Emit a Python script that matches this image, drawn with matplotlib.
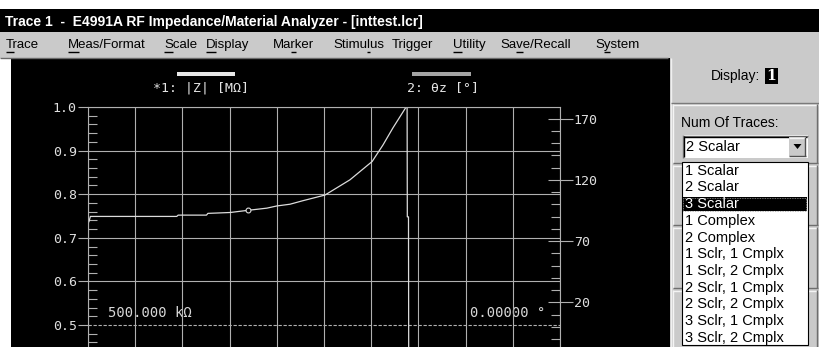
import numpy as np
import matplotlib
matplotlib.use("Agg")
from matplotlib import pyplot as plt
from matplotlib.patches import Rectangle, Polygon
from matplotlib.ticker import MultipleLocator
from matplotlib.font_manager import FontProperties

# |Z| trace, x in grid divisions (sweep axis not labelled on screen)
z_div = [0.02, 0.05, 1.88, 1.91, 2.51, 2.54, 3.01, 3.39, 3.79, 4.00, 4.28,
         4.55, 5.02, 5.55, 6.02, 6.25, 6.46, 6.74, 6.76, 6.765, 6.79, 6.795]
z_mohm = [0.737, 0.749, 0.749, 0.752, 0.752, 0.756, 0.758, 0.763, 0.768, 0.773, 0.777,
          0.785, 0.798, 0.833, 0.875, 0.913, 0.952, 1.0, 1.05, 0.748, 0.748, 0.40]
marker_div = [3.39]
marker_mohm = [0.763]

left_ticks = [0.5, 0.6, 0.7, 0.8, 0.9, 1.0]
left_labels = ["0.5", "0.6", "0.7", "0.8", "0.9", "1.0"]
right_ticks = [20, 70, 120, 170]
right_labels = ["20", "70", "120", "170"]

menu_items = ["Trace", "Meas/Format", "Scale", "Display", "Marker", "Stimulus",
              "Trigger", "Utility", "Save/Recall", "System"]
menu_x = [6, 68, 164, 206, 273, 333, 392, 453, 500, 595]
menu_ul = [0, 0, 0, 0, 2, 5, -1, 0, 2, 1]

trace_opts = ["1 Scalar", "2 Scalar", "3 Scalar", "1 Complex", "2 Complex",
              "1 Sclr, 1 Cmplx", "1 Sclr, 2 Cmplx", "2 Sclr, 1 Cmplx",
              "2 Sclr, 2 Cmplx", "3 Sclr, 1 Cmplx", "3 Sclr, 2 Cmplx"]
selected = 2

W, H = 820, 347
fig = plt.figure(figsize=(W / 100, H / 100), dpi=100)
fig.patch.set_facecolor("white")

# full-figure overlay in pixel coords for the window chrome
ui = fig.add_axes([0, 0, 1, 1], zorder=0)
ui.set_xlim(0, W)
ui.set_ylim(H, 0)
ui.axis("off")

def rect(x0, y0, x1, y1, fc, ec="none", lw=0, z=1):
    ui.add_patch(Rectangle((x0, y0), x1 - x0, y1 - y0, facecolor=fc,
                           edgecolor=ec, linewidth=lw, zorder=z))

def hl(y, x0, x1, c, z=2, lw=1):
    ui.plot([x0, x1], [y, y], color=c, lw=lw, zorder=z, solid_capstyle="butt")

def vl(x, y0, y1, c, z=2, lw=1):
    ui.plot([x, x], [y0, y1], color=c, lw=lw, zorder=z, solid_capstyle="butt")

panel = "#cacaca"
sans = "Liberation Sans"

# title bar + menu bar
rect(0, 9, W, 32, "black")
ui.text(5, 21.5, "Trace 1  -  E4991A RF Impedance/Material Analyzer - [inttest.lcr]",
        color="white", fontsize=10, fontweight="bold", family=sans,
        va="center", ha="left", zorder=3)
rect(0, 32, W, 58, panel)
hl(57.5, 0, 668, "#6a6a6a")

renderer = fig.canvas.get_renderer()
mprop = FontProperties(family=sans, size=9.5)
for name, x, ul in zip(menu_items, menu_x, menu_ul):
    ui.text(x, 45, name, fontproperties=mprop, color="black", va="center", ha="left", zorder=3)
    if ul >= 0:
        w0 = renderer.get_text_width_height_descent(name[:ul], mprop, ismath=False)[0] if ul else 0
        w1 = renderer.get_text_width_height_descent(name[:ul + 1], mprop, ismath=False)[0]
        hl(51.5, x + w0, x + w1, "black", z=3)

# black measurement screen
rect(11, 58, 670, H, "black")

# right side panel
rect(670, 58, W, H, panel)
vl(671, 58, H, "#f0f0f0")
hl(103, 671, W, "#7a7a7a")
for y0, y1 in [(104, 163), (165, 225), (227, 288), (290, H + 5)]:
    rect(673, y0, 818, y1, panel, z=1)
    hl(y0 + 0.5, 673, 818, "#f4f4f4")
    vl(673.5, y0, y1, "#f4f4f4")
    hl(y1 - 0.5, 673, 818, "#6e6e6e")
    vl(817.5, y0, y1, "#6e6e6e")

ui.text(711, 76, "Display:", family=sans, fontsize=10, va="center", ha="left", zorder=3)
rect(765, 68, 778, 84, "black", z=3)
ui.text(771.5, 76, "1", family="DejaVu Serif", fontsize=10, fontweight="bold",
        color="white", va="center", ha="center", zorder=4)
ui.text(681, 123, "Num Of Traces:", family=sans, fontsize=10, va="center", ha="left", zorder=3)

# combo box
rect(683, 135, 808, 158, "white", z=3)
hl(135.5, 683, 808, "#7a7a7a", z=4)
vl(683.5, 135, 158, "#7a7a7a", z=4)
hl(136.5, 684, 807, "black", z=4)
vl(684.5, 136, 157, "black", z=4)
rect(789, 137, 806, 156, panel, z=4)
hl(137.5, 789, 806, "#f4f4f4", z=5)
hl(155.5, 789, 806, "#505050", z=5)
vl(805.5, 137, 156, "#505050", z=5)
ui.add_patch(Polygon([[793.5, 144], [801.5, 144], [797.5, 149]], closed=True,
                     facecolor="black", zorder=6))
ui.text(686, 147, trace_opts[1], family=sans, fontsize=10.5, va="center", ha="left", zorder=5)

# open drop-down list
rect(682, 161.5, 808, 344.5, "white", ec="black", lw=0.8, z=6)
for i, opt in enumerate(trace_opts):
    y = 170.7 + i * 16.7
    col = "black"
    if i == selected:
        rect(683, y - 7, 807, y + 7, "black", z=7)
        ui.add_patch(Rectangle((683.5, y - 6.5), 123, 13, facecolor="none",
                               edgecolor="#9a9a9a", lw=0.6, ls=(0, (1, 1)), zorder=8))
        col = "white"
    ui.text(685, y, opt, family=sans, fontsize=10.5, color=col, va="center", ha="left", zorder=9)

# trace legend bars and labels
rect(177, 71.5, 235, 76, "#e8e8e8", z=3)
rect(412, 71.5, 471, 76, "#a4a4a4", z=3)
mono = "DejaVu Sans Mono"
ui.text(153, 88, "*1: |Z| [M\u03a9]", family=mono, fontsize=9.5, color="#e4e4e4",
        va="center", ha="left", zorder=3)
ui.text(407, 88, "2: \u03b8z [\u00b0]", family=mono, fontsize=9.5, color="#e4e4e4",
        va="center", ha="left", zorder=3)
ui.text(108, 313, "500.000 k\u03a9", family=mono, fontsize=10, color="#d8d8d8",
        va="center", ha="left", zorder=3)
ui.text(470, 313, "0.00000 \u00b0", family=mono, fontsize=10, color="#d8d8d8",
        va="center", ha="left", zorder=3)

# graticule
grid_c = "#b0b0b0"
ax = fig.add_axes([88 / W, 0, 472 / W, (H - 107) / H], zorder=2)
ax.patch.set_alpha(0)
ax.set_xlim(0, 10)
ax.set_ylim(0.4495, 1.0)
ax.set_xticks(range(11))
ax.tick_params(axis="x", length=0, labelbottom=False)
ax.grid(axis="x", color=grid_c, lw=0.8)
for t in left_ticks:
    if t == 0.5:
        ax.axhline(t, color=grid_c, lw=0.8, ls=(0, (3, 1.5)))
    else:
        ax.axhline(t, color=grid_c, lw=0.8)
for s in ["left", "top", "right"]:
    ax.spines[s].set_color(grid_c)
    ax.spines[s].set_linewidth(0.8)
ax.spines["bottom"].set_visible(False)
ax.set_yticks(left_ticks)
ax.set_yticklabels(left_labels, family=mono, fontsize=9.5, color="#e0e0e0")
ax.yaxis.set_minor_locator(MultipleLocator(0.02))
ax.tick_params(axis="y", which="major", direction="out", length=7, width=0.8,
               color=grid_c, pad=1)
ax.tick_params(axis="y", which="minor", direction="in", length=6.5, width=0.8, color=grid_c)

ax2 = ax.twinx()
ax2.set_ylim(-16.3, 179.4)
ax2.set_yticks(right_ticks)
ax2.set_yticklabels(right_labels, family=mono, fontsize=9.5, color="#e0e0e0")
ax2.yaxis.set_minor_locator(MultipleLocator(10))
ax2.tick_params(axis="y", which="major", direction="inout", length=18, width=0.8,
                color=grid_c, pad=1)
ax2.tick_params(axis="y", which="minor", direction="in", length=6.5, width=0.8, color=grid_c)
for s in ax2.spines.values():
    s.set_visible(False)

ax.plot(z_div, z_mohm, color="#dcdcdc", lw=0.9)
ax.plot(marker_div, marker_mohm, "o", mfc="black", mec="#dcdcdc", ms=3.5, mew=0.8)

fig.savefig("out.png", dpi=100, facecolor=fig.get_facecolor())
